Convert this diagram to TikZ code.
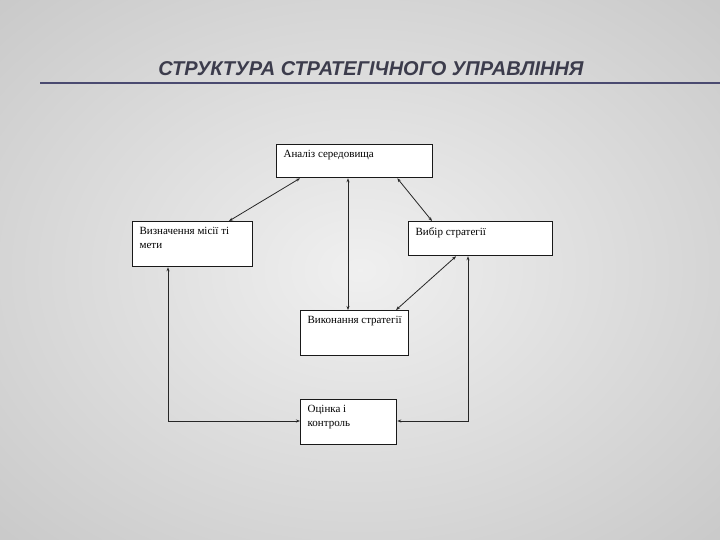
\documentclass[tikz,border=0pt]{standalone}
\usepackage{fontspec}
\setmainfont{Liberation Serif}
\newfontfamily\titlefont{Liberation Sans}
\usetikzlibrary{arrows.meta}
\definecolor{titlegray}{HTML}{3C3C4C}
\definecolor{rulecol}{HTML}{4A4A70}
\tikzset{blok/.style={draw=black!90, line width=1.3pt, fill=white, anchor=north west,
    inner xsep=7pt, inner ysep=6pt, font=\fontsize{11}{14}\selectfont},
  zv/.style={{Stealth[length=4pt,width=3pt]}-{Stealth[length=4pt,width=3pt]}, line width=0.8pt, black!85}}
\newcommand{\bloktext}[3]{\parbox[b][#2][t]{#1}{\raggedright #3}}

\begin{document}
\begin{tikzpicture}[x=1pt,y=-1pt]
      \useasboundingbox (0,0) rectangle (720,540);
      \shade[inner color=gray!12, outer color=gray!45] (-200,-150) rectangle (920,690);

      \node[font=\titlefont\bfseries\itshape\fontsize{20}{24}\selectfont, text=titlegray] (title) at (371,69)
        {СТРУКТУРА СТРАТЕГІЧНОГО УПРАВЛІННЯ};
      \draw[rulecol, line width=1.8pt] (40,83) -- (720,83);

      \node[blok] (analiz) at (276,144) {\bloktext{142pt}{21pt}{Аналіз середовища}};
      \node[blok] (misiya) at (132,221) {\bloktext{106pt}{33pt}{Визначення місії ті мети}};
      \node[blok] (vybir) at (408,221) {\bloktext{130pt}{22pt}{Вибір стратегії}};
      \node[blok] (vykon) at (300,310) {\bloktext{94pt}{33pt}{Виконання стратегії}};
      \node[blok] (otsinka) at (300,399) {\bloktext{82pt}{33pt}{Оцінка і\\контроль}};

      \draw[zv] ([xshift=24pt]analiz.south west) -- ([xshift=97pt]misiya.north west);
      \draw[zv] ([xshift=-36pt]analiz.south east) -- ([xshift=24pt]vybir.north west);
      \draw[zv] ([xshift=72pt]analiz.south west) -- ([xshift=48pt]vykon.north west);
      \draw[zv] ([xshift=48pt]vybir.south west) -- ([xshift=96pt]vykon.north west);

      \draw[zv] ([xshift=36pt]misiya.south west) |- ([yshift=-22pt]otsinka.north west);
      \draw[zv] ([xshift=60pt]vybir.south west) |- ([yshift=-22pt]otsinka.north east);
    \end{tikzpicture}
\end{document}
